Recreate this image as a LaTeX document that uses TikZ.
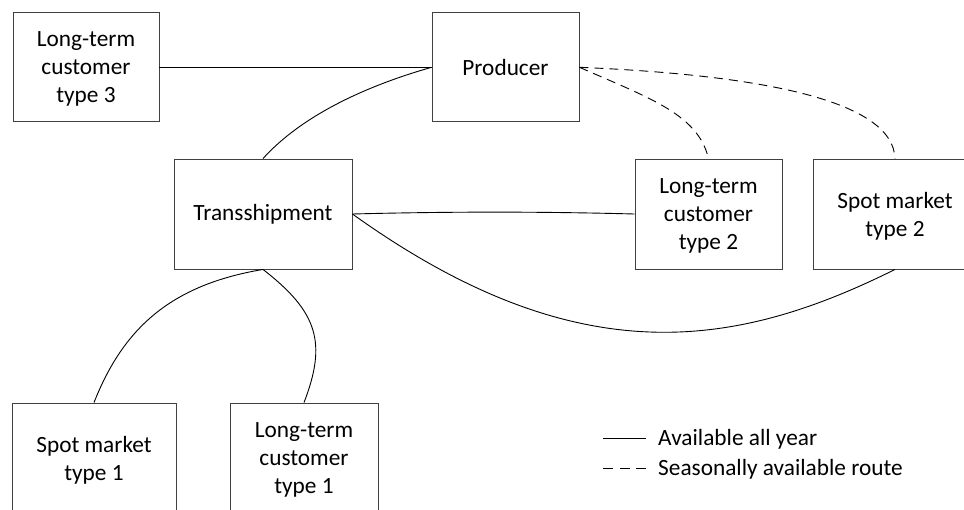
\documentclass[tikz,border=0pt]{standalone}
\usepackage{fontspec}
\setmainfont{Carlito}
\begin{document}
\begin{tikzpicture}[x=1pt,y=-1pt,
  box/.style={draw=black!75, line width=0.9pt, minimum height=110pt, inner sep=0pt, align=center, font=\fontsize{23.3}{28}\selectfont},
  mline/.style={text depth=0pt},
  conn/.style={draw=black, line width=0.9pt},
  seasonal/.style={conn, dash pattern=on 9pt off 6pt},
  lbl/.style={inner sep=0pt, anchor=base west, font=\fontsize{23.3}{28}\selectfont}]
\useasboundingbox (0,0) rectangle (964,509);
\clip (0,0) rectangle (964,509);
\fill[white] (0,0) rectangle (964,509);
% boxes
\node[box, mline, minimum width=146pt, minimum height=109pt] (lt3) at (86,67.3) {Long-term\\customer\\type 3};
\node[box, minimum width=147pt, minimum height=109pt] (prod) at (505.5,67.3) {Producer};
\node[box, minimum width=178pt] (trans) at (263,214) {Transshipment};
\node[box, mline, minimum width=147pt] (lt2) at (708.5,214) {Long-term\\customer\\type 2};
\node[box, mline, minimum width=164pt] (sm2) at (895,214) {Spot market\\type 2};
\node[box, mline, minimum width=164pt] (sm1) at (94,458) {Spot market\\type 1};
\node[box, mline, minimum width=148pt] (lt1) at (304,458) {Long-term\\customer\\type 1};
% connectors
\draw[conn] (lt3.east) -- (prod.west);
\draw[conn] (prod.west) .. controls (352,90) and (296,122) .. (trans.north);
\draw[conn] (trans.east) .. controls (450,211.5) and (540,211.5) .. (lt2.west);
\draw[conn] (trans.east) .. controls (577,375) and (735,349) .. (sm2.south);
\draw[seasonal] (prod.east) .. controls (649,98) and (698,114) .. (lt2.north);
\draw[seasonal] (prod.east) .. controls (760,75) and (893,100) .. (sm2.north);
\draw[conn] (trans.south) .. controls (170,285) and (123,329) .. (sm1.north);
\draw[conn] (trans.south) .. controls (318,312) and (327,343) .. (lt1.north);
% legend
\coordinate (ka) at (603,438);
\coordinate (kb) at (646,438);
\coordinate (kc) at (603,468);
\coordinate (kd) at (646,468);
\draw[conn] (ka) -- (kb);
\draw[seasonal, dash pattern=on 10pt off 6.5pt] (kc) -- (kd);
\node[lbl] (k1) at (658,445) {Available all year};
\node[lbl] (k2) at (658,475) {Seasonally available route};
\end{tikzpicture}
\end{document}
